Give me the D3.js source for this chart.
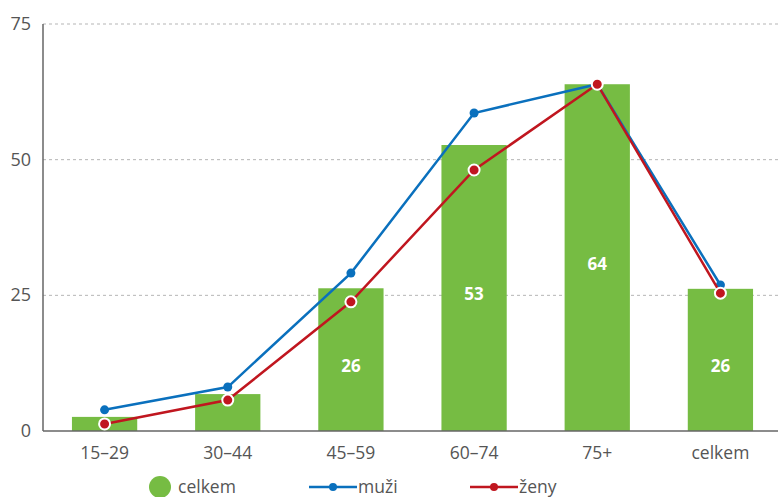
<!DOCTYPE html>
<html>
<head>
<meta charset="utf-8">
<script src="https://cdn.jsdelivr.net/npm/d3@7"></script>
<style>
  body { margin: 0; background: #fff; }
  svg { font-family: "Open Sans", sans-serif; }
</style>
</head>
<body>
<svg id="chart" width="778" height="497"></svg>
<script>
const categories = ["15–29", "30–44", "45–59", "60–74", "75+", "celkem"]
const celkem = [2.6, 6.8, 26.3, 52.7, 63.9, 26.2]
const barLabels = ["", "", "26", "53", "64", "26"]
const muzi = [3.9, 8.1, 29.1, 58.6, 63.9, 26.9]
const zeny = [1.3, 5.7, 23.8, 48.1, 63.9, 25.4]
const yTicks = [0, 25, 50, 75]

const green = "#76bc43", blue = "#0a70bd", red = "#c0161f"
const margin = {top: 24, right: 0, bottom: 66, left: 43}
const width = 778 - margin.left - margin.right,
      height = 497 - margin.top - margin.bottom

let svg = d3.select("#chart")
let chart = svg.append("g")
    .attr("transform", "translate(" + margin.left + "," + margin.top + ")")

let x = d3.scaleBand().domain(categories).range([0, 739]).paddingInner(0.47).paddingOuter(0.235)
let y = d3.scaleLinear().domain([0, 75]).range([height, 0])

// dashed gridlines
chart.selectAll(".grid")
    .data(yTicks.filter(d => d > 0))
    .enter().append("line")
    .attr("x1", 0).attr("x2", width)
    .attr("y1", d => y(d)).attr("y2", d => y(d))
    .attr("stroke", "#b5b5b5")
    .attr("stroke-dasharray", "3,3")

// y tick labels
chart.selectAll(".ylab")
    .data(yTicks)
    .enter().append("text")
    .attr("x", -12)
    .attr("y", d => y(d) + 6)
    .attr("text-anchor", "end")
    .style("font-size", "18px")
    .style("fill", "#555")
    .text(d => d)

// bars
chart.selectAll(".bar")
    .data(celkem)
    .enter().append("rect")
    .attr("x", (d, i) => x(categories[i]))
    .attr("width", x.bandwidth())
    .attr("y", d => y(d))
    .attr("height", d => height - y(d))
    .attr("fill", green)

chart.selectAll(".barlab")
    .data(celkem)
    .enter().append("text")
    .attr("x", (d, i) => x(categories[i]) + x.bandwidth() / 2)
    .attr("y", d => (y(d) + height) / 2 + 12)
    .attr("text-anchor", "middle")
    .style("font-size", "17px")
    .style("font-weight", "bold")
    .style("fill", "#fff")
    .text((d, i) => barLabels[i])

// axes lines
chart.append("line")
    .attr("x1", 0).attr("x2", 0).attr("y1", 0).attr("y2", height)
    .attr("stroke", "#666").attr("stroke-width", 1.5)
chart.append("line")
    .attr("x1", 0).attr("x2", width).attr("y1", height).attr("y2", height)
    .attr("stroke", "#666").attr("stroke-width", 1.5)

// x labels
chart.selectAll(".xlab")
    .data(categories)
    .enter().append("text")
    .attr("x", d => x(d) + x.bandwidth() / 2)
    .attr("y", height + 28)
    .attr("text-anchor", "middle")
    .style("font-size", "17.5px")
    .style("fill", "#555")
    .text(d => d)

let line = d3.line()
    .x((d, i) => x(categories[i]) + x.bandwidth() / 2)
    .y(d => y(d))

function series(vals, color, outline) {
  chart.append("path")
      .datum(vals)
      .attr("d", line)
      .attr("fill", "none")
      .attr("stroke", color)
      .attr("stroke-width", 2.5)
  chart.selectAll(null)
      .data(vals)
      .enter().append("circle")
      .attr("cx", (d, i) => x(categories[i]) + x.bandwidth() / 2)
      .attr("cy", d => y(d))
      .attr("r", outline ? 5.5 : 4.5)
      .attr("fill", color)
      .attr("stroke", outline ? "#fff" : "none")
      .attr("stroke-width", 2)
}
series(muzi, blue, false)
series(zeny, red, true)

// legend
let leg = svg.append("g").attr("transform", "translate(0,487)")
leg.append("circle").attr("cx", 160).attr("cy", 0).attr("r", 11).attr("fill", green)
leg.append("text").attr("x", 178).attr("y", 6).style("font-size", "17.5px").style("fill", "#555").text("celkem")

function legLine(x0, color, label) {
  leg.append("line").attr("x1", x0).attr("x2", x0 + 48).attr("y1", 0).attr("y2", 0)
      .attr("stroke", color).attr("stroke-width", 2.5)
  leg.append("circle").attr("cx", x0 + 24).attr("cy", 0).attr("r", 4).attr("fill", color)
  leg.append("text").attr("x", x0 + 49).attr("y", 6).style("font-size", "17.5px").style("fill", "#555").text(label)
}
legLine(309, blue, "muži")
legLine(470, red, "ženy")
</script>
</body>
</html>
